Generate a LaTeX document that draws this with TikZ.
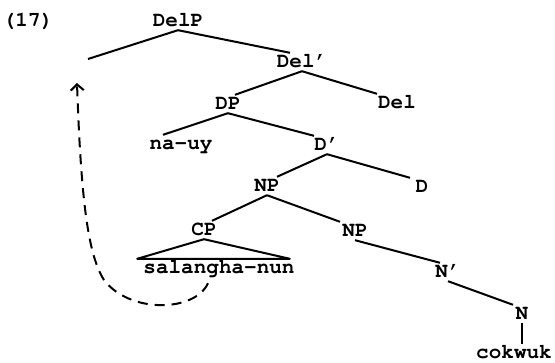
\documentclass[tikz,border=0pt]{standalone}
\usepackage[T1]{fontenc}
\usepackage{courier}
\usepackage{tikz}
\usetikzlibrary{arrows.meta}

\tikzset{
  lab/.style={font=\ttfamily\bfseries\fontsize{21}{22}\selectfont,
    inner sep=3pt, text height=12pt, text depth=0pt},
  branch/.style={line width=2pt},
  moved/.style={line width=2pt, dash pattern=on 10pt off 7pt,
    -{Straight Barb[length=6pt,width=13pt,line width=2pt]}}
}

\begin{document}
\begin{tikzpicture}[x=1pt, y=-1pt]
\useasboundingbox (0,0) rectangle (555,363);

% labels, placed at pixel positions
\node[lab] (ex)     at (28,21)   {(17)};
\node[lab] (delp)   at (178,21)  {DelP};
\node[lab] (delbar) at (302,62)  {Del'};
\node[lab] (dp)     at (228,104) {DP};
\node[lab] (del)    at (397,103) {Del};
\node[lab] (nauy)   at (181,144) {na-uy};
\node[lab] (dbar)   at (327,145) {D'};
\node[lab] (np)     at (267,186) {NP};
\node[lab] (d)      at (422,187) {D};
\node[lab] (cp)     at (204,230) {CP};
\node[lab] (npb)    at (355,231) {NP};
\node[lab] (salang) at (219,268) {salangha-nun};
\node[lab] (nbar)   at (448,272) {N'};
\node[lab] (n)      at (522,314) {N};
\node[lab] (cok)    at (514,353) {cokwuk};

\coordinate (gap) at (88,59);
\coordinate (landing) at (77,83);

% branches
\draw[branch] (delp.south) -- (gap);
\draw[branch] (delp.south) -- ([xshift=-12pt]delbar.north);
\draw[branch] (delbar.south) -- ([xshift=7pt]dp.north);
\draw[branch] (delbar.south) -- ([xshift=-20pt]del.north);
\draw[branch] (dp.south) -- ([xshift=-18pt]nauy.north);
\draw[branch] (dp.south) -- ([xshift=-13pt]dbar.north);
\draw[branch] (dbar.south) -- ([xshift=10pt]np.north);
\draw[branch] (dbar.south) -- ([xshift=-12pt]d.north);
\draw[branch] (np.south) -- ([xshift=8pt]cp.north);
\draw[branch] (np.south) -- ([xshift=-15pt]npb.north);
\draw[branch] (npb.south) -- ([xshift=-8pt]nbar.north);
\draw[branch] (nbar.south) -- ([xshift=-9pt]n.north);
\draw[branch] (n.south) -- (cok.north -| n.south);

% roof over the relative clause
\draw[branch, line join=round] (cp.south) -- ([xshift=-3pt]salang.north west)
  -- ([xshift=-8pt]salang.north east) -- cycle;

% movement of the relative clause
\draw[moved] ([xshift=-11pt,yshift=-6pt]salang.south) .. controls (195,312) and (130,314) .. (104,280)
  .. controls (88,255) and (81,200) .. (landing);

\end{tikzpicture}
\end{document}
